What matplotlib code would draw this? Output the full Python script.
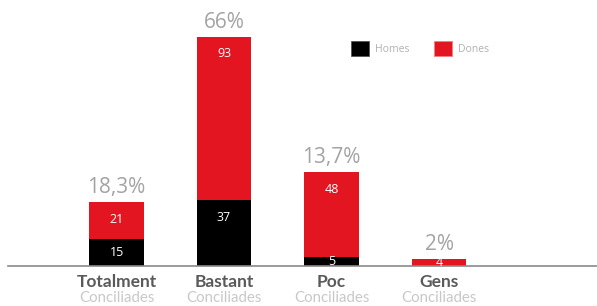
import matplotlib
matplotlib.use("Agg")
import matplotlib.pyplot as plt
from matplotlib.patches import Patch
from matplotlib.transforms import blended_transform_factory

plt.rcParams['font.family'] = ['Open Sans', 'DejaVu Sans']

categories = ["Totalment", "Bastant", "Poc", "Gens"]
subtitle = "Conciliades"
homes = [15, 37, 5, 0]
dones = [21, 93, 48, 4]
percent = [18.3, 66, 13.7, 2]

RED = "#E31520"
BLACK = "#000000"

fig = plt.figure(figsize=(5.97, 3.06), dpi=100)
W, H = 597, 306
base_px = 265.6
scale = 229 / 130.0  # px per unit
ymax = 140
ax = fig.add_axes([8 / W, (H - base_px) / H, 1 - 8 / W, ymax * scale / H])
ax.set_xlim(-1.01, 4.47)
ax.set_ylim(0, ymax)
for s in ["left", "right", "top"]:
    ax.spines[s].set_visible(False)
ax.spines["bottom"].set_color("#8a8a8a")
ax.spines["bottom"].set_linewidth(1.2)
ax.set_xticks([])
ax.set_yticks([])
ax.patch.set_alpha(0)

x = list(range(len(categories)))
width = 0.51
ax.bar(x, homes, width=width, color=BLACK, label="Homes")
ax.bar(x, dones, width=width, bottom=homes, color=RED, label="Dones")

off = 17 / scale
for i in x:
    h, d = homes[i], dones[i]
    if h > 0:
        y = max(h / 2, h - off)
        ax.text(i, y, str(h), color="white", ha="center", va="center", fontsize=9)
    if d > 0:
        top = h + d
        y = max(h + d / 2, top - off)
        ax.text(i, y, str(d), color="white", ha="center", va="center", fontsize=9)
    label = f"{percent[i]:g}".replace(".", ",") + "%"
    ax.annotate(label, (i, h + d), xytext=(0, 6.5), textcoords="offset points",
                ha="center", va="baseline", fontsize=15, color="#a3a3a3")

trans = blended_transform_factory(ax.transData, ax.transAxes)
for i, c in enumerate(categories):
    ax.annotate(c, (i, 0), xycoords=trans, xytext=(0, -15.5), textcoords="offset points",
                ha="center", va="baseline", fontsize=12.5, fontweight="bold",
                color="#5a5a5a", family=["Lato", "DejaVu Sans"])
    ax.annotate(subtitle, (i, 0), xycoords=trans, xytext=(0, -26.3), textcoords="offset points",
                ha="center", va="baseline", fontsize=10.8, color="#c8c8c8",
                family=["Lato", "DejaVu Sans"])

handles = [Patch(facecolor=BLACK, edgecolor="#555555", linewidth=0.6, label="Homes"),
           Patch(facecolor=RED, edgecolor="#f08080", linewidth=0.6, label="Dones")]
leg = ax.legend(handles=handles, ncol=2, frameon=False, fontsize=7.5,
                loc="center left", bbox_to_anchor=(354 / W - 0.005, 1 - 48.5 / H),
                bbox_transform=fig.transFigure,
                handlelength=1.7, handleheight=1.7, handletextpad=0.6,
                columnspacing=2.4, borderpad=0, borderaxespad=0)
for t in leg.get_texts():
    t.set_color("#b0b0b0")

fig.savefig("out.png", dpi=100)
